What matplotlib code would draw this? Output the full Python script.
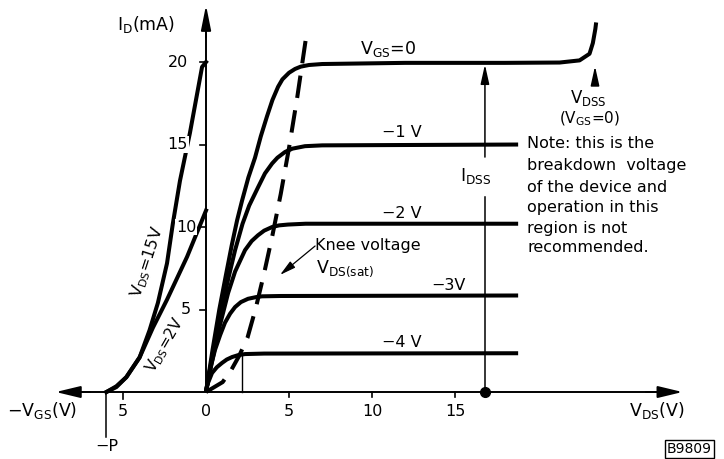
import matplotlib
matplotlib.use('Agg')
import matplotlib.pyplot as plt

plt.rcParams['font.family'] = ['DejaVu Sans']
plt.rcParams['mathtext.fontset'] = 'dejavusans'

# ---------------- data (V, mA) ----------------
# Output characteristics I_D vs V_DS
vds_0 = [0, 0.4, 0.8, 1.2, 1.55, 1.87, 2.17, 2.55, 2.95, 3.3, 3.67, 4.0, 4.34, 4.6, 5.0, 5.36, 5.7, 6.2, 7.0, 12, 18,
         21.3, 22.5, 23.1, 23.3, 23.45, 23.5]
id_0 = [0, 2.6, 5.0, 7.1, 8.9, 10.4, 11.6, 13.0, 14.2, 15.5, 16.7, 17.7, 18.5, 18.95, 19.35, 19.58, 19.72, 19.82,
        19.88, 19.95, 19.95, 19.97, 20.1, 20.5, 21.15, 22.0, 22.4]
vds_1 = [0, 0.4, 0.85, 1.3, 1.75, 2.2, 2.6, 3.13, 3.55, 3.98, 4.3, 4.76, 5.2, 5.96, 7.0, 18.8]
id_1 = [0, 2.3, 4.6, 6.7, 8.6, 10.2, 11.3, 12.4, 13.25, 13.85, 14.2, 14.55, 14.75, 14.9, 14.95, 15.0]
vds_2 = [0, 0.35, 0.8, 1.33, 1.75, 2.35, 2.75, 3.13, 3.5, 3.98, 4.4, 4.94, 6.0, 18.8]
id_2 = [0, 1.8, 3.9, 6.0, 7.3, 8.6, 9.15, 9.5, 9.78, 10.0, 10.1, 10.15, 10.2, 10.2]
vds_3 = [0, 0.2, 0.54, 0.85, 1.14, 1.45, 1.75, 2.1, 2.53, 3.0, 3.37, 4.5, 18.8]
id_3 = [0, 1.2, 2.55, 3.45, 4.2, 4.75, 5.15, 5.45, 5.65, 5.75, 5.8, 5.82, 5.85]
vds_4 = [0, 0.06, 0.36, 0.65, 0.96, 1.25, 1.57, 1.95, 2.35, 3.5, 18.8]
id_4 = [0, 0.4, 1.15, 1.5, 1.76, 1.97, 2.12, 2.24, 2.3, 2.33, 2.35]

# Knee voltage locus V_DS(sat)
knee_v = [0, 1, 1.5, 2, 2.5, 3, 3.5, 4, 4.5, 5, 5.5, 6.1]
knee_i = [0, 0.6, 1.3, 2.2, 3.3, 5.1, 7.2, 9.5, 12.0, 14.8, 17.9, 22.0]

# Transfer characteristics (-V_GS plotted to the left)
vgs_15 = [-6, -5.4, -4.8, -4.0, -3.4, -2.9, -2.35, -2.0, -1.57, -0.97, -0.24, 0]
id_15 = [0, 0.35, 0.9, 2.1, 3.75, 5.4, 7.8, 10.2, 12.8, 15.7, 19.7, 20]
vgs_2 = [-6, -5.4, -4.8, -4.0, -3.2, -2.35, -1.14, 0]
id_2v = [0, 0.3, 0.9, 2.1, 3.9, 5.6, 8.2, 11.0]

curve_labels = ['$\\mathregular{V_{GS}}$=0', '\u22121 V', '\u22122 V', '\u22123V', '\u22124 V']
yticks = [5, 10, 15, 20]
xticks_pos = [5, 10, 15]
xticks_neg = [5]
pinch_off = 6.0
idss_vds = 16.8
idss = 19.85
vdss = 23.43
knee_4v = 2.17

note_lines = ['Note: this is the', 'breakdown  voltage', 'of the device and',
              'operation in this', 'region is not', 'recommended.']

# ---------------- figure ----------------
fig = plt.figure(figsize=(7.24, 4.59), dpi=100)
ax = fig.add_axes([0, 0, 1, 1])
ax.set_xlim(-12.41, 31.2)
ax.set_ylim(-4.06, 23.76)
ax.axis('off')

K = 'black'
LW = 2.9
FS = 11.5

# axes lines with arrowheads
ax.plot([-8.5, 28.0], [0, 0], color=K, lw=1.4, solid_capstyle='butt', zorder=2)
ax.plot([0, 0], [0, 22.5], color=K, lw=1.4, solid_capstyle='butt', zorder=2)
hs = '-|>,head_length=1.0,head_width=0.24'
ax.annotate('', xy=(28.7, 0), xytext=(26.5, 0),
            arrowprops=dict(arrowstyle=hs, color=K, lw=1.4, shrinkA=0, shrinkB=0, mutation_scale=15))
ax.annotate('', xy=(-9.05, 0), xytext=(-7.0, 0),
            arrowprops=dict(arrowstyle=hs, color=K, lw=1.4, shrinkA=0, shrinkB=0, mutation_scale=15))
ax.annotate('', xy=(0, 23.45), xytext=(0, 21.5),
            arrowprops=dict(arrowstyle='-|>,head_length=1.0,head_width=0.2', color=K, lw=1.4,
                            shrinkA=0, shrinkB=0, mutation_scale=15))

# ticks
for t in yticks:
    ax.plot([-0.36, 0], [t, t], color=K, lw=1.2)
for t in xticks_pos:
    ax.plot([t, t], [0, -0.33], color=K, lw=1.2)
    ax.text(t, -1.2, str(t), ha='center', va='center', fontsize=FS)
for t in xticks_neg:
    ax.plot([-t, -t], [0, -0.45], color=K, lw=1.2)
    ax.text(-t, -1.2, str(t), ha='center', va='center', fontsize=FS)
ax.text(0, -1.2, '0', ha='center', va='center', fontsize=FS)

ytick_x = {5: -1.2, 10: -1.2, 15: -1.7, 20: -1.7}
for t in yticks:
    ax.text(ytick_x[t], t, str(t), ha='center', va='center', fontsize=FS, zorder=6,
            bbox=dict(fc='white', ec='none', pad=0.6))

# output curves
for v, i in [(vds_0, id_0), (vds_1, id_1), (vds_2, id_2), (vds_3, id_3), (vds_4, id_4)]:
    ax.plot(v, i, color=K, lw=LW, solid_capstyle='butt', solid_joinstyle='round', zorder=4)

# transfer curves
ax.plot(vgs_15, id_15, color=K, lw=LW, solid_joinstyle='round', zorder=4)
ax.plot(vgs_2, id_2v, color=K, lw=LW, solid_joinstyle='round', zorder=4)

# knee locus (dashed)
ax.plot(knee_v, knee_i, color=K, lw=LW, ls=(0, (5.6, 3.1)), dash_capstyle='butt', zorder=4)

# knee marker for -4 V
ax.plot([knee_4v, knee_4v], [0, 2.26], color=K, lw=1.0, zorder=3)

# pinch-off
ax.plot([-pinch_off, -pinch_off], [0, -2.73], color=K, lw=1.1)
ax.text(-pinch_off, -3.33, '\u2212P', ha='center', va='center', fontsize=FS)

# I_DSS arrow
small = '-|>,head_length=0.9,head_width=0.2'
ax.plot([idss_vds, idss_vds], [0, 11.8], color=K, lw=1.1, zorder=3)
ax.annotate('', xy=(idss_vds, idss), xytext=(idss_vds, 14.24),
            arrowprops=dict(arrowstyle=small, color=K, lw=1.1,
                            shrinkA=0, shrinkB=0, mutation_scale=13), zorder=3)
ax.plot([idss_vds], [0], 'o', color=K, ms=7, zorder=5)
ax.text(16.27, 13.1, '$\\mathregular{I_{DSS}}$', ha='center', va='center', fontsize=FS + 1)

# V_DSS arrow
ax.annotate('', xy=(vdss, 19.75), xytext=(vdss, 18.6),
            arrowprops=dict(arrowstyle=small, color=K, lw=1.1,
                            shrinkA=0, shrinkB=0, mutation_scale=13))
ax.text(23.0, 17.8, '$\\mathregular{V_{DSS}}$', ha='center', va='center', fontsize=FS + 0.5)
ax.text(23.13, 16.55, '($\\mathregular{V_{GS}}$=0)', ha='center', va='center', fontsize=FS - 0.5)

# curve labels
lab_pos = [(10.96, 20.8), (11.8, 15.7), (11.8, 10.85), (14.58, 6.48), (11.8, 3.03)]
for k, ((x, y), s) in enumerate(zip(lab_pos, curve_labels)):
    ax.text(x, y, s, ha='center', va='center', fontsize=FS + (1 if k == 0 else 0))

# note
note_y = [15.09, 13.7, 12.42, 11.21, 9.94, 8.73]
for y, s in zip(note_y, note_lines):
    ax.text(19.34, y, s, ha='left', va='center', fontsize=FS)

# knee annotation
ax.text(6.57, 8.9, 'Knee voltage', ha='left', va='center', fontsize=FS)
ax.text(6.6, 7.45, '$\\mathregular{V_{DS(sat)}}$', ha='left', va='center', fontsize=FS + 1)
ax.annotate('', xy=(4.46, 7.1), xytext=(6.57, 8.85),
            arrowprops=dict(arrowstyle='-|>,head_length=0.8,head_width=0.2', color=K, lw=0.9,
                            shrinkA=0, shrinkB=0, mutation_scale=12))

# axis labels
ax.text(-5.36, 22.3, '$\\mathregular{I_D}$(mA)', ha='left', va='center', fontsize=FS + 1)
ax.text(-12.0, -1.15, '\u2212$\\mathregular{V_{GS}}$(V)', ha='left', va='center', fontsize=FS + 1)
ax.text(27.17, -1.15, '$\\mathregular{V_{DS}}$(V)', ha='center', va='center', fontsize=FS + 1)

# transfer curve labels
ax.text(-3.55, 7.9, '$\\mathregular{V_{DS}}$=15V', ha='center', va='center', rotation=72, fontsize=FS)
ax.text(-2.45, 2.85, '$\\mathregular{V_{DS}}$=2V', ha='center', va='center', rotation=60, fontsize=FS - 0.5)

# figure code
ax.text(29.1, -3.45, 'B9809', ha='center', va='center', fontsize=10,
        bbox=dict(boxstyle='square,pad=0.15', fc='white', ec=K, lw=1.0))

fig.savefig('out.png', dpi=100, facecolor='white')
